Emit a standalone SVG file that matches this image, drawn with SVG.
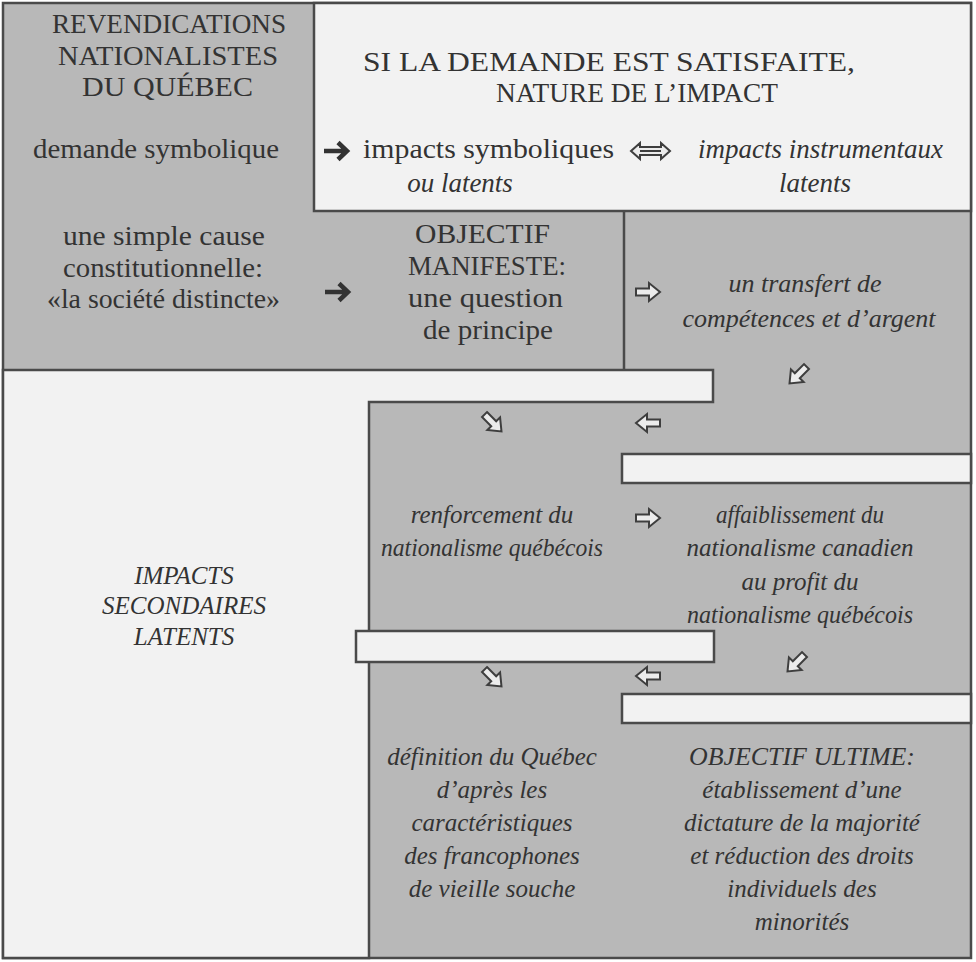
<svg xmlns="http://www.w3.org/2000/svg" xmlns:xlink="http://www.w3.org/1999/xlink" width="976" height="962" viewBox="0 0 976 962">
<defs>
<style>
.bg{fill:#b8b8b8;stroke:#4a4a4a;stroke-width:2.5}
.wh{fill:#f2f2f2;stroke:#4a4a4a;stroke-width:2.5}
.ln{fill:none;stroke:#4a4a4a;stroke-width:2.5}
text{font-family:"Liberation Serif","Times New Roman",serif;fill:#333333;text-anchor:middle}
.up{font-size:27px}
.it{font-size:25px;font-style:italic}
.it26{font-size:26px;font-style:italic}
.it27{font-size:27px;font-style:italic}
.st{text-anchor:start}
.ha{fill:#ececec;stroke:#3e3e3e;stroke-width:2;stroke-linejoin:miter}
.sa{fill:none;stroke:#333333;stroke-width:4.5}
</style>
<path id="harrow" class="ha" d="M-12,-3.5 H1 V-9 L12,0 L1,9 V3.5 H-12 Z"/>
</defs>
<g id="frame">
<rect class="bg" x="3" y="3" width="968" height="955"/>
<rect class="wh" x="314" y="3" width="657" height="208"/>
<path class="wh" d="M3,370 H713 V402 H369 V958 H3 Z"/>
<path class="ln" d="M624,211 V370"/>
<rect class="wh" x="622" y="454" width="349" height="29"/>
<rect class="wh" x="356" y="631" width="358" height="31"/>
<rect class="wh" x="622" y="694" width="349" height="29"/>
</g>
<g id="n-revendications">
<text class="up st" x="52" y="33" textLength="234" lengthAdjust="spacingAndGlyphs">REVENDICATIONS</text>
<text class="up st" x="58" y="65" textLength="220" lengthAdjust="spacingAndGlyphs">NATIONALISTES</text>
<text class="up st" x="82" y="96" textLength="171" lengthAdjust="spacingAndGlyphs">DU QUÉBEC</text>
<text class="up st" x="33" y="158" textLength="246" lengthAdjust="spacingAndGlyphs">demande symbolique</text>
</g>
<g id="n-satisfaite">
<text class="up st" x="363" y="71" textLength="492" lengthAdjust="spacingAndGlyphs">SI LA DEMANDE EST SATISFAITE,</text>
<text class="up st" x="496" y="102" textLength="282" lengthAdjust="spacingAndGlyphs">NATURE DE L’IMPACT</text>
</g>
<g id="n-symboliques">
<text class="up st" x="363" y="158" textLength="251" lengthAdjust="spacingAndGlyphs">impacts symboliques</text>
<text class="it27" x="460" y="192">ou latents</text>
</g>
<g id="n-instrumentaux">
<text class="it27 st" x="698" y="158" textLength="245" lengthAdjust="spacingAndGlyphs">impacts instrumentaux</text>
<text class="it27" x="815" y="192">latents</text>
</g>
<g id="n-cause">
<text class="up st" x="63" y="245" textLength="202" lengthAdjust="spacingAndGlyphs">une simple cause</text>
<text class="up st" x="63" y="277" textLength="200" lengthAdjust="spacingAndGlyphs">constitutionnelle:</text>
<text class="up st" x="47" y="308" textLength="233" lengthAdjust="spacingAndGlyphs">«la société distincte»</text>
</g>
<g id="n-manifeste">
<text class="up st" x="415" y="243" textLength="135" lengthAdjust="spacingAndGlyphs">OBJECTIF</text>
<text class="up st" x="408" y="275" textLength="158" lengthAdjust="spacingAndGlyphs">MANIFESTE:</text>
<text class="up st" x="408" y="307" textLength="155" lengthAdjust="spacingAndGlyphs">une question</text>
<text class="up st" x="423" y="339" textLength="130" lengthAdjust="spacingAndGlyphs">de principe</text>
</g>
<g id="n-transfert">
<text class="it26" x="805" y="292">un transfert de</text>
<text class="it26" x="809" y="327">compétences et d’argent</text>
</g>
<g id="n-secondaires">
<text class="it" x="184" y="584">IMPACTS</text>
<text class="it" x="184" y="614">SECONDAIRES</text>
<text class="it" x="184" y="645">LATENTS</text>
</g>
<g id="n-renforcement">
<text class="it" x="492" y="523">renforcement du</text>
<text class="it" x="492" y="556" textLength="222" lengthAdjust="spacingAndGlyphs">nationalisme québécois</text>
</g>
<g id="n-affaiblissement">
<text class="it" x="800" y="523" textLength="168" lengthAdjust="spacingAndGlyphs">affaiblissement du</text>
<text class="it" x="800" y="556">nationalisme canadien</text>
<text class="it" x="800" y="590">au profit du</text>
<text class="it" x="800" y="623" textLength="226" lengthAdjust="spacingAndGlyphs">nationalisme québécois</text>
</g>
<g id="n-definition">
<text class="it" x="492" y="765">définition du Québec</text>
<text class="it" x="492" y="798">d’après les</text>
<text class="it" x="492" y="831">caractéristiques</text>
<text class="it" x="492" y="864">des francophones</text>
<text class="it" x="492" y="897">de vieille souche</text>
</g>
<g id="n-ultime">
<text class="it" x="802" y="765" textLength="226" lengthAdjust="spacingAndGlyphs">OBJECTIF ULTIME:</text>
<text class="it" x="802" y="798">établissement d’une</text>
<text class="it" x="802" y="831">dictature de la majorité</text>
<text class="it" x="802" y="864">et réduction des droits</text>
<text class="it" x="802" y="897">individuels des</text>
<text class="it" x="802" y="930">minorités</text>
</g>
<g id="connectors">
<path class="sa" d="M324,151 H346 M338,142.5 L347,151 L338,159.5"/>
<path class="sa" d="M325,292 H347 M339,283.5 L348,292 L339,300.5"/>
<path class="ha" d="M631,151 L640,143 V147 H661 V143 L670,151 L661,159 V155 H640 V159 Z M640,151 H661"/>
<use xlink:href="#harrow" transform="translate(648,292)"/>
<use xlink:href="#harrow" transform="translate(798,375) rotate(135)"/>
<use xlink:href="#harrow" transform="translate(493,423) rotate(45)"/>
<use xlink:href="#harrow" transform="translate(648,423) rotate(180)"/>
<use xlink:href="#harrow" transform="translate(648,518)"/>
<use xlink:href="#harrow" transform="translate(796,663) rotate(135)"/>
<use xlink:href="#harrow" transform="translate(493,678) rotate(45)"/>
<use xlink:href="#harrow" transform="translate(648,676) rotate(180)"/>
</g>
</svg>
